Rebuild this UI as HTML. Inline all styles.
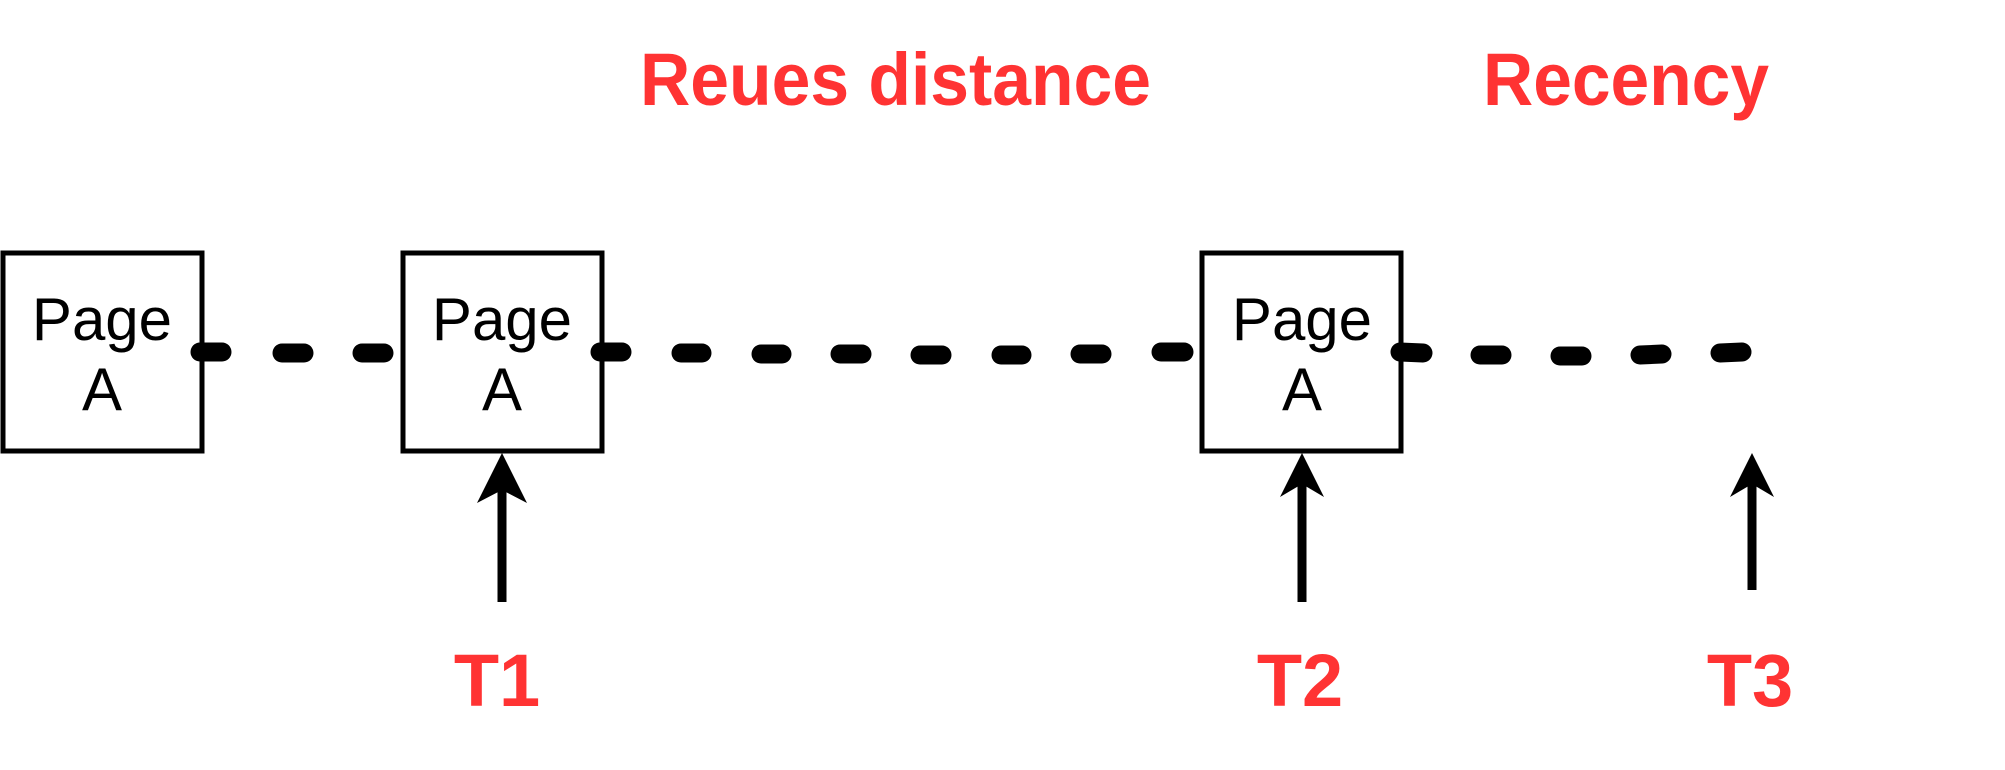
<!DOCTYPE html>
<html><head><meta charset="utf-8"><style>
html,body{margin:0;padding:0;background:#fff;}
svg{display:block;}
</style></head><body>
<svg width="2005" height="770" viewBox="0 0 2005 770" xmlns="http://www.w3.org/2000/svg">
<g fill="#fff" stroke="#000" stroke-width="5">
<rect x="3" y="253" width="199" height="198"/>
<rect x="403" y="253" width="199" height="198"/>
<rect x="1202" y="253" width="199" height="198"/>
</g>
<g stroke="#000" stroke-width="19" stroke-linecap="round" fill="none">
<line x1="200" y1="352" x2="222" y2="352"/>
<line x1="282" y1="353" x2="304" y2="353"/>
<line x1="362" y1="353" x2="384" y2="353"/>
<line x1="600" y1="352" x2="622" y2="352"/>
<line x1="681" y1="353" x2="702" y2="353"/>
<line x1="761" y1="354" x2="782" y2="354"/>
<line x1="840" y1="354" x2="862" y2="354"/>
<line x1="920" y1="355" x2="942" y2="355"/>
<line x1="1001" y1="355" x2="1022" y2="355"/>
<line x1="1080" y1="354" x2="1102" y2="354"/>
<line x1="1161" y1="352" x2="1184" y2="352"/>
<line x1="1400" y1="352" x2="1423" y2="353"/>
<line x1="1480" y1="355" x2="1502" y2="355"/>
<line x1="1560" y1="356" x2="1582" y2="356"/>
<line x1="1640" y1="355" x2="1662" y2="354"/>
<line x1="1720" y1="353" x2="1742" y2="352"/>
</g>
<g stroke="#000" stroke-width="9">
<line x1="502" y1="602" x2="502" y2="480"/>
<line x1="1302" y1="602" x2="1302" y2="480"/>
<line x1="1752" y1="590" x2="1752" y2="480"/>
</g>
<g fill="#000">
<polygon points="502,453 527,503 502,490 477,503"/>
<polygon points="1302,453 1324,497 1302,484 1280,497"/>
<polygon points="1752,453 1774,497 1752,484 1730,497"/>
</g>
<g font-family="Liberation Sans, sans-serif" font-size="60" text-anchor="middle" fill="#000">
<text x="102" y="340">Page</text><text x="102" y="410">A</text>
<text x="502" y="340">Page</text><text x="502" y="410">A</text>
<text x="1302" y="340">Page</text><text x="1302" y="410">A</text>
</g>
<g font-family="Liberation Sans, sans-serif" font-size="74" font-weight="bold" fill="#ff3333">
<text x="640" y="105" textLength="511" lengthAdjust="spacingAndGlyphs">Reues distance</text>
<text x="1483" y="105" textLength="286" lengthAdjust="spacingAndGlyphs">Recency</text>
<text x="497" y="706" text-anchor="middle">T1</text>
<text x="1300" y="706" text-anchor="middle">T2</text>
<text x="1750" y="706" text-anchor="middle">T3</text>
</g>
</svg>
</body></html>
